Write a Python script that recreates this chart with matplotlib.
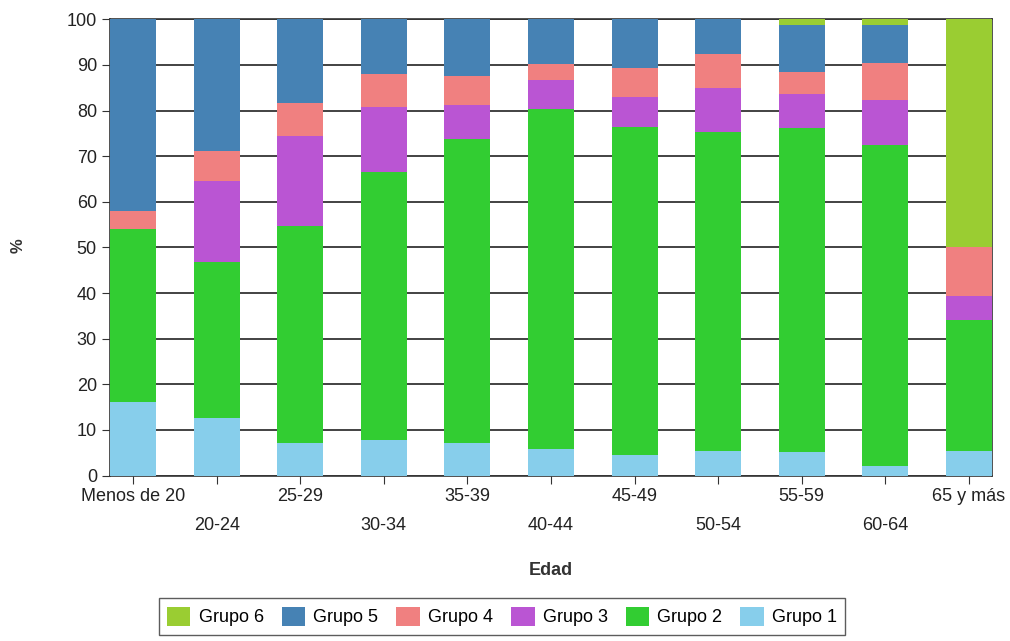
import numpy as np
import matplotlib
matplotlib.use("Agg")
import matplotlib.pyplot as plt
from matplotlib.patches import Patch

edades = ['Menos de 20', '20-24', '25-29', '30-34', '35-39', '40-44',
          '45-49', '50-54', '55-59', '60-64', '65 y más']

grupo1 = [16.2, 12.6, 7.1, 7.7, 7.1, 5.8, 4.5, 5.4, 5.1, 2.1, 5.4]
grupo2 = [37.8, 34.2, 47.6, 58.9, 66.7, 74.6, 71.9, 70.0, 71.0, 70.4, 28.6]
grupo3 = [0.0, 17.7, 19.8, 14.1, 7.5, 6.2, 6.6, 9.6, 7.6, 9.8, 5.4]
grupo4 = [4.0, 6.7, 7.2, 7.3, 6.3, 3.7, 6.3, 7.3, 4.8, 8.2, 10.6]
grupo5 = [42.0, 28.8, 18.3, 12.0, 12.4, 9.7, 10.7, 7.7, 10.3, 8.3, 0.0]
grupo6 = [0.0, 0.0, 0.0, 0.0, 0.0, 0.0, 0.0, 0.0, 1.2, 1.2, 50.0]

series = [grupo1, grupo2, grupo3, grupo4, grupo5, grupo6]
nombres = ['Grupo 1', 'Grupo 2', 'Grupo 3', 'Grupo 4', 'Grupo 5', 'Grupo 6']
colores = ['#87CEEB', '#32CD32', '#BA55D3', '#F08080', '#4682B4', '#9ACD32']

plt.rcParams['font.family'] = ['Liberation Sans', 'DejaVu Sans']
fs = 13

fig = plt.figure(figsize=(10.1, 6.41), dpi=100)
ax = fig.add_axes([0.109, 0.258, 0.873, 0.712])

x = np.arange(len(edades))
ancho = 0.55
base = np.zeros(len(edades))
for vals, nombre, color in zip(series, nombres, colores):
    vals = np.array(vals)
    ax.bar(x, vals, ancho, bottom=base, color=color, label=nombre, zorder=3)
    base += vals

ax.set_ylim(0, 100)
ax.set_xlim(-ancho / 2, len(edades) - 1 + ancho / 2)
ax.set_yticks(range(0, 101, 10))
ax.yaxis.grid(True, color='#222222', linewidth=1.2, zorder=0)
ax.set_axisbelow(True)

# etiquetas alternas en dos filas
etiquetas = [e if i % 2 == 0 else '\n' + e for i, e in enumerate(edades)]
ax.set_xticks(x)
ax.set_xticklabels(etiquetas, fontsize=fs, color='#222222', linespacing=1.9)
ax.tick_params(axis='y', labelsize=fs, labelcolor='#222222', length=6, color='#333333')
ax.tick_params(axis='x', length=6, color='#333333', pad=3)
for s in ax.spines.values():
    s.set_color('#333333')
    s.set_linewidth(1.2)

ax.set_xlabel('Edad', fontsize=fs, fontweight='bold', color='#333333', labelpad=20)
fig.text(0.018, 1 - 246 / 641, '%', rotation=90, fontsize=12, fontweight='bold',
         color='#333333', ha='center', va='center')

handles = [Patch(facecolor=c, label=n) for c, n in zip(colores, nombres)][::-1]
leg = fig.legend(handles=handles, loc='lower center', bbox_to_anchor=(0.497, -0.004),
                 ncol=6, frameon=True, fancybox=False, fontsize=fs,
                 handlelength=1.3, handleheight=1.3, handletextpad=0.45,
                 columnspacing=1.0, borderpad=0.45)
leg.get_frame().set_edgecolor('#333333')
leg.get_frame().set_linewidth(1.0)

fig.savefig('out.png', dpi=100)
